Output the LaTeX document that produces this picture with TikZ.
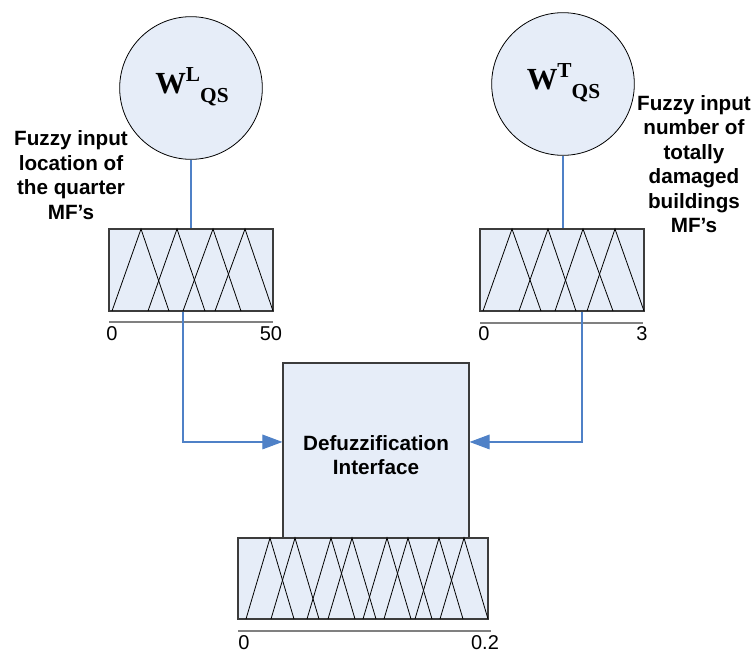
\documentclass[tikz,border=0pt]{standalone}
\usepackage{fontspec}
\setmainfont{Liberation Sans}
\newfontfamily\wfont{Liberation Serif}
\usetikzlibrary{arrows.meta}
\definecolor{boxfill}{RGB}{230,237,248}
\definecolor{connblue}{RGB}{79,129,199}
\definecolor{edgegray}{RGB}{60,60,60}
\definecolor{axisgray}{RGB}{128,128,128}
\newcommand{\wlabel}[1]{{\wfont\bfseries\fontsize{23}{25}\selectfont W\raisebox{0.40em}{\fontsize{16}{17}\selectfont #1}\raisebox{-0.30em}{\fontsize{16}{17}\selectfont QS}}}
\tikzset{
  inputcircle/.style={circle, draw=black, line width=0.6pt, fill=boxfill, minimum size=107pt, inner sep=0pt},
  mfbox/.style={rectangle, draw=edgegray, line width=0.9pt, fill=boxfill, inner sep=0pt},
  defbox/.style={rectangle, draw=edgegray, line width=0.9pt, fill=boxfill, inner sep=0pt},
  deftext/.style={align=center, inner sep=0pt, font=\bfseries\fontsize{15.5}{18.5}\selectfont},
  mftri/.style={draw=black, line width=0.6pt, line join=miter},
  axisline/.style={draw=axisgray, line width=1.5pt},
  conn/.style={draw=connblue, line width=0.8pt},
  connarrow/.style={conn, -{Triangle[length=15pt, width=11pt]}},
  sidetext/.style={align=center, font=\bfseries\fontsize{15.5}{18.4}\selectfont},
  axlabel/.style={font=\fontsize{15}{17}\selectfont, inner sep=0pt}
}
\begin{document}
\begin{tikzpicture}[x=0.75pt, y=-0.75pt]
\useasboundingbox (0,0) rectangle (754,656);

% fuzzy input circles
\node[inputcircle] (lc) at (191,88) {};
\node (lcw) at (192,87) {\wlabel{L}};
\node[inputcircle] (rc) at (563,84) {};
\node (rcw) at (563.5,83) {\wlabel{T}};

% membership function boxes
\node[mfbox, minimum width=123pt, minimum height=61.5pt] (lmf) at (191,270) {};
\node[mfbox, minimum width=123pt, minimum height=61.5pt] (rmf) at (562,270) {};
\node[defbox, minimum width=139.5pt, minimum height=131.25pt] (dfz) at (376,450.5) {};
\node[deftext] (dfztext) at (376,455) {Defuzzification\\Interface};
\node[mfbox, minimum width=187.5pt, minimum height=60.75pt] (omf) at (363,578.5) {};

% triangular membership functions
\foreach \a/\p/\b in {112/141/169, 148/177/205, 183/213/241, 215/245/273}
  \draw[mftri] (\a,311) -- (\p,229) -- (\b,311);
\foreach \a/\p/\b in {483/512/541, 519/548/576, 555/583/613, 587/615/644}
  \draw[mftri] (\a,311) -- (\p,229) -- (\b,311);
\foreach \p in {270,295,331,352,387,408,439,464}
  \draw[mftri] (\p-24,619) -- (\p,538) -- (\p+24,619);

% axes under the boxes
\draw[axisline] (109,322) -- (273,322);
\draw[axisline] (480,323) -- (643,323);
\draw[axisline] (238,631) -- (491,631);
\node[axlabel] (l0) at (112,334) {0};
\node[axlabel] (l50) at (271,334) {50};
\node[axlabel] (r0) at (484,334) {0};
\node[axlabel] (r3) at (642,334) {3};
\node[axlabel] (o0) at (244,643) {0};
\node[axlabel] (o02) at (485,643) {0.2};

% side descriptions
\node[sidetext] (ltext) at (71,175) {Fuzzy input\\location of\\the quarter\\MF’s};
\node[sidetext] (rtext) at (694,164) {Fuzzy input\\number of\\totally\\damaged\\buildings\\MF’s};

% connectors
\draw[conn] (lc.south) -- (lc.south |- lmf.north);
\draw[conn] (rc.south) -- (rc.south |- rmf.north);
\draw[connarrow] ([xshift=-6pt]lmf.south) |- ([yshift=6.4pt]dfz.west);
\draw[connarrow] ([xshift=15pt]rmf.south) |- ([yshift=6.4pt]dfz.east);
\end{tikzpicture}
\end{document}
